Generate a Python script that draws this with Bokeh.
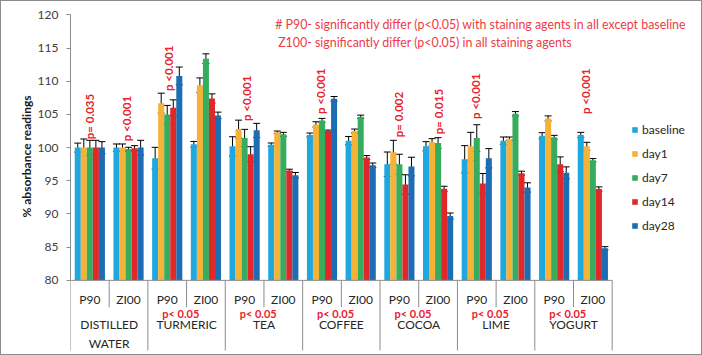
import math
from bokeh.plotting import figure
from bokeh.models import (ColumnDataSource, Range1d, Whisker, TeeHead,
                          Legend, LegendItem, Label, FixedTicker)
from bokeh.core.properties import value
from bokeh.embed import file_html
from bokeh.resources import INLINE

# ---------------- data ----------------
groups = ["DISTILLED WATER", "TURMERIC", "TEA", "COFFEE", "COCOA", "LIME", "YOGURT"]
group_labels = ["DISTILLED\nWATER", "TURMERIC", "TEA", "COFFEE", "COCOA", "LIME", "YOGURT"]
materials = ["P90", "ZI00"]
series = ["baseline", "day1", "day7", "day14", "day28"]

# order: DW P90, DW ZI00, TUR P90, TUR ZI00, TEA P90, TEA ZI00, COF P90, COF ZI00,
#        COC P90, COC ZI00, LIME P90, LIME ZI00, YOG P90, YOG ZI00
baseline = [100.0, 100.0, 98.4, 100.5, 100.2, 100.45, 101.9, 101.05, 97.5, 100.2, 98.25, 101.05, 101.8, 101.9]
day1 = [100.0, 100.0, 106.7, 109.4, 102.8, 102.3, 103.5, 102.5, 99.3, 100.8, 100.2, 101.35, 104.4, 100.2]
day7 = [100.0, 99.8, 105.0, 113.4, 101.45, 102.0, 104.1, 104.65, 97.5, 100.7, 101.45, 105.1, 101.55, 98.1]
day14 = [100.0, 99.9, 106.0, 107.4, 99.0, 96.55, 102.5, 98.5, 94.45, 93.8, 94.6, 96.15, 97.5, 93.75]
day28 = [100.0, 100.0, 110.8, 104.85, 102.6, 95.85, 107.35, 97.35, 97.15, 89.7, 98.4, 94.0, 96.2, 84.85]

baseline_err = [0.68, 0.55, 1.64, 0.43, 1.44, 0.25, 0.3, 0.63, 1.84, 0.7, 2.05, 0.55, 0.45, 0.4]
day1_err = [1.3, 0.55, 1.5, 1.1, 1.34, 0.2, 0.4, 0.3, 1.8, 0.55, 2.1, 0.25, 0.38, 0.6]
day7_err = [1.1, 0.25, 1.36, 0.73, 1.3, 0.3, 0.3, 0.25, 1.5, 0.8, 2.0, 0.33, 0.3, 0.25]
day14_err = [1.1, 0.4, 1.2, 0.7, 1.14, 0.2, 0.15, 0.3, 1.46, 0.38, 1.5, 0.3, 1.1, 0.33]
day28_err = [0.9, 1.1, 1.34, 0.5, 1.06, 0.4, 0.35, 0.33, 1.4, 0.45, 1.45, 0.7, 0.9, 0.23]

y_ticks = [80, 85, 90, 95, 100, 105, 110, 115, 120]

# rotated p-value annotations
pval_group = ["DISTILLED WATER", "DISTILLED WATER", "TURMERIC", "TEA", "COFFEE", "COCOA", "COCOA", "LIME", "YOGURT"]
pval_mat = ["P90", "ZI00", "P90", "P90", "P90", "P90", "ZI00", "P90", "ZI00"]
pval_text = ["p= 0.035", "p <0.001", "p <0.001", "p <0.001", "p <0.001", "p= 0.002", "p= 0.015", "p <0.001", "p <0.001"]
pval_y = [101.26, 100.95, 108.53, 104.0, 105.05, 101.56, 102.0, 104.3, 105.05]
pval_dx = [0.0, -0.05, 0.04, 0.06, -0.04, -0.02, 0.0, -0.02, -0.2]

sig_groups = ["TURMERIC", "TEA", "COFFEE", "COCOA", "LIME", "YOGURT"]
sig_text = "p< 0.05"

note_lines = ["# P90- significantly differ (p<0.05) with staining agents in all except baseline",
              "Z100- significantly differ (p<0.05) in all staining agents"]

y_title = "% absorbance readings"

values = [baseline, day1, day7, day14, day28]
errors = [baseline_err, day1_err, day7_err, day14_err, day28_err]
colors = ["#1FA7DF", "#F5B236", "#36AD5E", "#E0282B", "#1C6DB4"]

FONT = "Lato"
RED = "#EE3B45"
PRED = "#E8232D"

# ---------------- layout constants ----------------
PX_PER_UNIT = 6.6          # y pixels per % unit
PX_PER_CAT = 38.57         # x pixels per P90/ZI00 category
CANVAS_W, CANVAS_H = 700, 353
LEFT = 69
Y120_PX = 13.3             # canvas y of the 120 gridline

def ypx(py):
    """reference-image pixel row -> y data value"""
    return 120 - (py - 1 - Y120_PX) / PX_PER_UNIT

def xpx(px):
    """reference-image pixel column -> x data value"""
    return (px - 1 - LEFT) / PX_PER_CAT

factors = [(g, m) for g in groups for m in materials]
ncat = len(factors)
cat_center = [i + 0.5 for i in range(ncat)]
cat_index = {f: i for i, f in enumerate(factors)}

x_range = Range1d(0, (CANVAS_W - LEFT) / PX_PER_CAT)
y_range = Range1d(120 - (CANVAS_H - Y120_PX) / PX_PER_UNIT, 120 + Y120_PX / PX_PER_UNIT)

p = figure(width=CANVAS_W, height=CANVAS_H, x_range=x_range, y_range=y_range,
           x_axis_location=None, toolbar_location=None, output_backend="svg",
           min_border_left=LEFT, min_border_right=0, min_border_top=0, min_border_bottom=0,
           styles={"border": "1px solid #8C8C8C", "box-sizing": "content-box"})
p.grid.visible = False
p.outline_line_color = None
p.background_fill_color = "white"
p.border_fill_color = "white"

n = len(series)
bw = 0.156
renderers = []
for k in range(n):
    off = (k - (n - 1) / 2) * bw
    xs = [c + off for c in cat_center]
    src = ColumnDataSource(dict(
        x=xs,
        top=values[k],
        upper=[v + e for v, e in zip(values[k], errors[k])],
        lower=[v - e for v, e in zip(values[k], errors[k])],
    ))
    r = p.vbar(x="x", top="top", bottom=80, width=bw,
               source=src, fill_color=colors[k], line_color=None)
    renderers.append(r)
    w = Whisker(base="x", upper="upper", lower="lower", source=src,
                line_color="black", line_width=1,
                upper_head=TeeHead(size=7, line_color="black", line_width=1),
                lower_head=TeeHead(size=7, line_color="black", line_width=1))
    p.add_layout(w)

# x axis line and category separators
AXC = "#8C8C8C"
nb = ncat + 1
p.segment(x0=[0], x1=[ncat], y0=[80], y1=[80], line_color=AXC, line_width=1)
sx = [float(i) for i in range(nb)]
sy1 = [ypx(348) if i % len(materials) == 0 else ypx(305) for i in range(nb)]
p.segment(x0=sx, x1=sx, y0=[80] * nb, y1=sy1, line_color=AXC, line_width=1)

# subgroup labels
p.text(x=cat_center, y=[ypx(297)] * ncat, text=[m for g in groups for m in materials],
       text_font=value(FONT), text_font_size="12px", text_color="#262626",
       text_align="center", text_baseline="middle")

# group labels
gx, gy, gt = [], [], []
for i, lab in enumerate(group_labels):
    for j, line in enumerate(lab.split("\n")):
        gx.append(len(materials) * i + len(materials) / 2)
        gy.append(ypx(322 + 19 * j))
        gt.append(line)
p.text(x=gx, y=gy, text=gt, text_font=value(FONT), text_font_size="12px", text_color="#262626",
       text_align="center", text_baseline="middle")

# p<0.05 under groups
sgx = [len(materials) * groups.index(g) + len(materials) / 2 - 0.15 for g in sig_groups]
p.text(x=sgx, y=[ypx(311)] * len(sgx), text=[sig_text] * len(sgx), text_font=value(FONT),
       text_font_size="11px", text_font_style="bold", text_color=PRED,
       text_align="center", text_baseline="middle")

# rotated p-values
px_ = [cat_center[cat_index[(g, m)]] + d for g, m, d in zip(pval_group, pval_mat, pval_dx)]
p.text(x=px_, y=pval_y, text=pval_text, angle=math.pi / 2,
       text_font=value(FONT), text_font_size="11.5px", text_font_style="bold", text_color=PRED,
       text_align="left", text_baseline="middle")

# note text
for j, line in enumerate(note_lines):
    p.add_layout(Label(x=xpx(274 + 3 * j), y=ypx(24 + 18 * j), text=line,
                       text_font=FONT, text_font_size="12.4px", text_color=RED,
                       text_baseline="middle", text_align="left"))

# y axis
ax = p.yaxis[0]
ax.bounds = (80, 120)
ax.ticker = FixedTicker(ticks=y_ticks)
ax.axis_line_color = AXC
ax.major_tick_line_color = AXC
ax.major_tick_out = 4
ax.major_tick_in = 0
ax.minor_tick_out = 0
ax.minor_tick_in = 0
ax.major_label_text_font = FONT
ax.major_label_text_font_size = "12px"
ax.major_label_text_color = "#404040"
ax.major_label_standoff = 8
# leading em-spaces lift the centred title up to the middle of the 80-120 span
ax.axis_label = "\u2003" * 5 + y_title
ax.axis_label_text_font = FONT
ax.axis_label_text_font_size = "12px"
ax.axis_label_text_font_style = "bold"
ax.axis_label_text_color = "#1a1a1a"
ax.axis_label_standoff = 1

# legend (frame coordinates, right of the bars)
legend = Legend(items=[LegendItem(label=s, renderers=[r]) for s, r in zip(series, renderers)],
                location=(561, 123), glyph_width=7, glyph_height=7, label_height=16, spacing=8,
                padding=5, margin=0, label_standoff=4, border_line_color=None,
                background_fill_alpha=0, label_text_font=FONT, label_text_font_size="12px",
                label_text_color="#262626")
p.add_layout(legend)

open("out.html", "w").write(file_html(p, INLINE))
